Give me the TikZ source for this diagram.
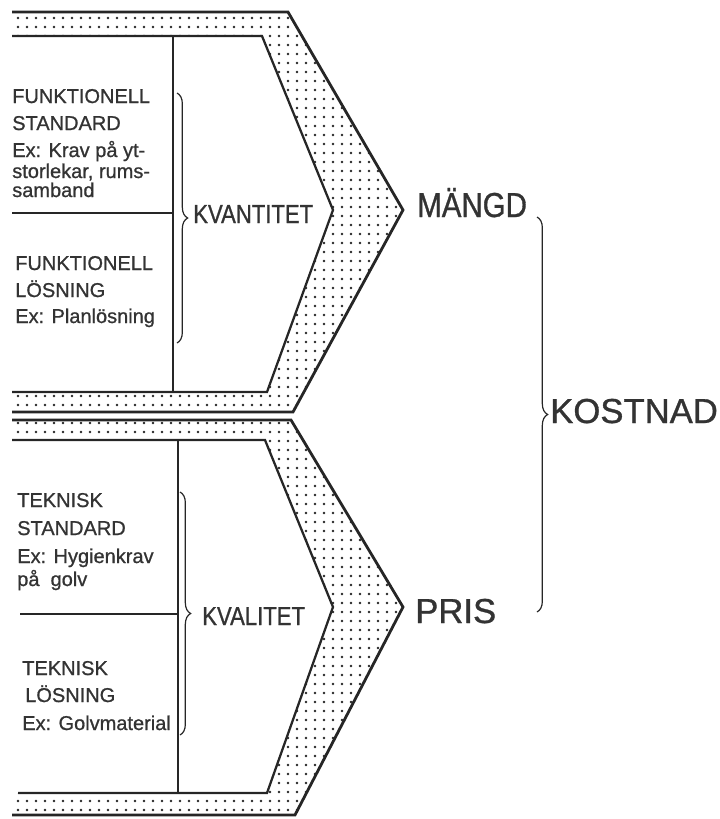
\documentclass[tikz,border=0pt]{standalone}
\usepackage{fontspec}
\setmainfont[FakeBold=0.9]{Liberation Sans}
\newfontfamily\condfont[FakeStretch=0.85, FakeBold=0.9]{Liberation Sans}
\usepackage{tikz}
\usetikzlibrary{decorations.pathreplacing, patterns.meta}
\definecolor{inkdark}{HTML}{262626}
\definecolor{textdark}{HTML}{333333}

\tikzdeclarepattern{
  name=stipple,
  type=uncolored,
  bounding box={(-1.2pt,-1.2pt) and (1.2pt,1.2pt)},
  tile size={(6.75pt,6.75pt)},
  code={\pgfpathcircle{\pgfpointorigin}{1pt}\pgfusepath{fill}}
}

\begin{document}
\begin{tikzpicture}[x=0.75pt, y=-0.75pt,
    outerline/.style={draw=inkdark, line width=2.1pt},
    innerline/.style={draw=inkdark, line width=1.7pt},
    band/.style={pattern=stipple, pattern color=inkdark, even odd rule},
    splitline/.style={draw=inkdark, line width=1.3pt},
    bracebar/.style={draw=inkdark, line width=0.9pt, decorate, decoration={brace, amplitude=8pt}},
    smalltext/.style={anchor=base west, inner sep=0pt, text=textdark, font=\fontsize{15}{18}\selectfont},
    midlabel/.style={anchor=base west, inner sep=0pt, text=textdark, font=\condfont\fontsize{19.5}{22}\selectfont},
    biglabel/.style={anchor=base west, inner sep=0pt, text=textdark, font=\fontsize{26}{30}\selectfont}
]
    \useasboundingbox (0,0) rectangle (719,819);

    % --- Upper block: Kvantitet ---
    \fill[band] (12,12) -- (288,12) -- (403,210) -- (293,412) -- (12,412) -- cycle
                (12,36) -- (262,36) -- (333,210) -- (267,392) -- (12,392) -- cycle;
    \draw[outerline] (12,12) -- (288,12) -- (403,210) -- (293,412) -- (12,412);
    \draw[innerline] (12,36) -- (262,36) -- (333,210) -- (267,392) -- (12,392);
    \draw[splitline] (173,36) -- (173,392);
    \draw[splitline] (12,213) -- (173,213);

    % --- Lower block: Kvalitet ---
    \fill[band] (12,420) -- (291,420) -- (403,607) -- (295,815) -- (12,815) -- cycle
                (12,440) -- (265,440) -- (333,607) -- (267,793) -- (12,793) -- cycle;
    \draw[outerline] (12,420) -- (291,420) -- (403,607) -- (295,815) -- (12,815);
    \draw[innerline] (12,440) -- (265,440) -- (333,607) -- (267,793) -- (18,793);
    \draw[splitline] (178,440) -- (178,793);
    \draw[splitline] (20,614) -- (178,614);

    % Left column texts
    \foreach \tx/\ty/\txt [count=\i] in {12/103/FUNKTIONELL, 12/130/STANDARD, 12/157/{Ex: Krav på yt-}, 12/178/{storlekar, rums-}, 12/197/samband}
        \node[smalltext] (fstd\i) at (\tx,\ty) {\txt};
    \foreach \tx/\ty/\txt [count=\i] in {15/270/FUNKTIONELL, 15/297/LÖSNING, 15/323/{Ex: Planlösning}}
        \node[smalltext] (flos\i) at (\tx,\ty) {\txt};
    \foreach \tx/\ty/\txt [count=\i] in {17/507/TEKNISK, 17/535/STANDARD, 17/563/{Ex: Hygienkrav}, 17/586/{på\ \ golv}}
        \node[smalltext] (tstd\i) at (\tx,\ty) {\txt};
    \foreach \tx/\ty/\txt [count=\i] in {22/675/TEKNISK, 25/702/LÖSNING, 22/730/{Ex: Golvmaterial}}
        \node[smalltext] (tlos\i) at (\tx,\ty) {\txt};

    % Braces and labels
    \coordinate (kvtop) at (177,93);
    \coordinate (kvbot) at (177,343);
    \coordinate (kltop) at (180,492);
    \coordinate (klbot) at (180,735);
    \coordinate (kotop) at (537,217);
    \coordinate (kobot) at (537,612);
    \draw[bracebar] (kvtop) -- (kvbot);
    \draw[bracebar] (kltop) -- (klbot);
    \draw[bracebar] (kotop) -- (kobot);

    \node[midlabel] (kvantitet) at (193,223) {KVANTITET};
    \node[midlabel] (kvalitet) at (202,625) {KVALITET};
    \node[biglabel, font=\condfont\fontsize{26}{30}\selectfont] (mangd) at (417,217) {MÄNGD};
    \node[biglabel] (pris) at (415,623) {PRIS};
    \node[biglabel] (kostnad) at (550,423) {KOSTNAD};
\end{tikzpicture}
\end{document}
